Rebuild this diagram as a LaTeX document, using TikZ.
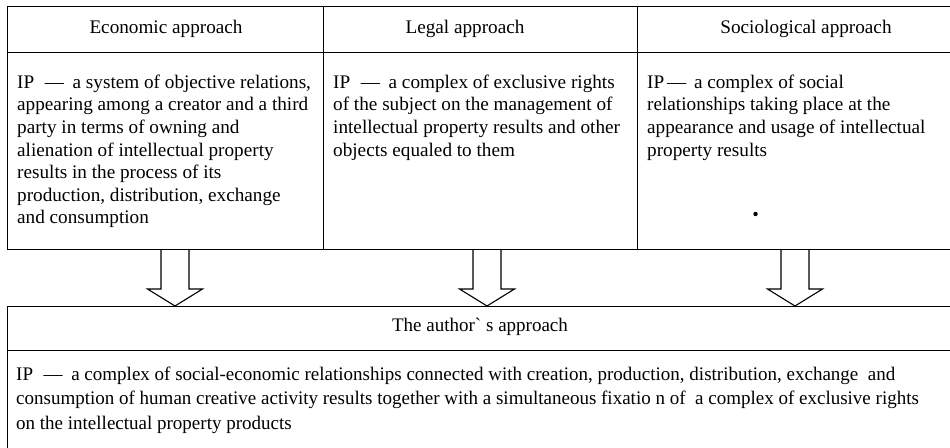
\documentclass[tikz,border=0pt]{standalone}
\usepackage{fontspec}
\setmainfont{Liberation Serif}
\newfontfamily\condfont[FakeStretch=0.99]{Liberation Serif}
\begin{document}
\begin{tikzpicture}[x=1pt,y=-1pt,
  frame/.style={draw, line width=1.1pt, inner sep=0pt, anchor=north west},
  bodytxt/.style={anchor=north west, inner sep=0pt, align=left, font=\fontsize{19.2}{22.6}\selectfont},
  headtxt/.style={anchor=base, inner sep=0pt, font=\fontsize{19.2}{22.6}\selectfont},
  authtxt/.style={anchor=north west, inner sep=0pt, align=left, font=\condfont\fontsize{19.2}{24.5}\selectfont},
  hollow/.style={draw, line width=1.1pt, line join=miter}]
\useasboundingbox (0,0) rectangle (950,447);
% top table frames
\node[frame, minimum width=316pt, minimum height=46.5pt] (econH) at (6.5,5.5) {};
\node[frame, minimum width=314pt, minimum height=46.5pt] (legalH) at (322.5,5.5) {};
\node[frame, minimum width=330pt, minimum height=46.5pt] (socH) at (636.5,5.5) {};
\node[frame, minimum width=316pt, minimum height=197pt] (econC) at (6.5,52) {};
\node[frame, minimum width=314pt, minimum height=197pt] (legalC) at (322.5,52) {};
\node[frame, minimum width=330pt, minimum height=197pt] (socC) at (636.5,52) {};
% bottom frames
\node[frame, minimum width=960pt, minimum height=44pt] (authH) at (6.5,306) {};
\node[frame, minimum width=960pt, minimum height=120pt] (authC) at (6.5,350) {};
% header texts
\node[headtxt] (econT) at (166,33) {Economic approach};
\node[headtxt] (legalT) at (465,33) {Legal approach};
\node[headtxt] (socT) at (806,33) {Sociological approach};
\node[headtxt, font=\condfont\fontsize{19.2}{24}\selectfont] (authT) at (480,331) {The author\textasciigrave\ s approach};
% body texts
\node[bodytxt] (econB) at (17,72.18) {\strut IP\hspace{0.55em}—\hspace{0.45em}a system of objective relations,\\appearing among a creator and a third\\party in terms of owning and\\alienation of intellectual property\\results in the process of its\\production, distribution, exchange\\and consumption};
\node[bodytxt] (legalB) at (333,72.18) {\strut IP\hspace{0.55em}—\hspace{0.45em}a complex of exclusive rights\\of the subject on the management of\\intellectual property results and other\\objects equaled to them};
\node[bodytxt] (socB) at (647,72.18) {\strut IP\hspace{0.15em}—\hspace{0.4em}a complex of social\\relationships taking place at the\\appearance and usage of intellectual\\property results};
\fill (755.5,214) circle (2.2);
\node[authtxt] (authB) at (16,362.85) {\strut IP\hspace{0.55em}—\hspace{0.45em}a complex of social-economic relationships connected with creation, production, distribution, exchange\ \ and\\consumption of human creative activity results together with a simultaneous fixatio n of\ \ a complex of exclusive rights\\on the intellectual property products};
% arrows
\coordinate (a1) at (175,249);
\coordinate (a2) at (487,249);
\coordinate (a3) at (795,249);
\foreach \a in {a1,a2,a3}{
  \draw[hollow] (\a) ++(-14,0) -- ++(0,40) -- ++(-13.5,0) -- (\a |- authH.north) -- ++(27.5,-17) -- ++(-13.5,0) -- ++(0,-40);
}
\end{tikzpicture}
\end{document}
